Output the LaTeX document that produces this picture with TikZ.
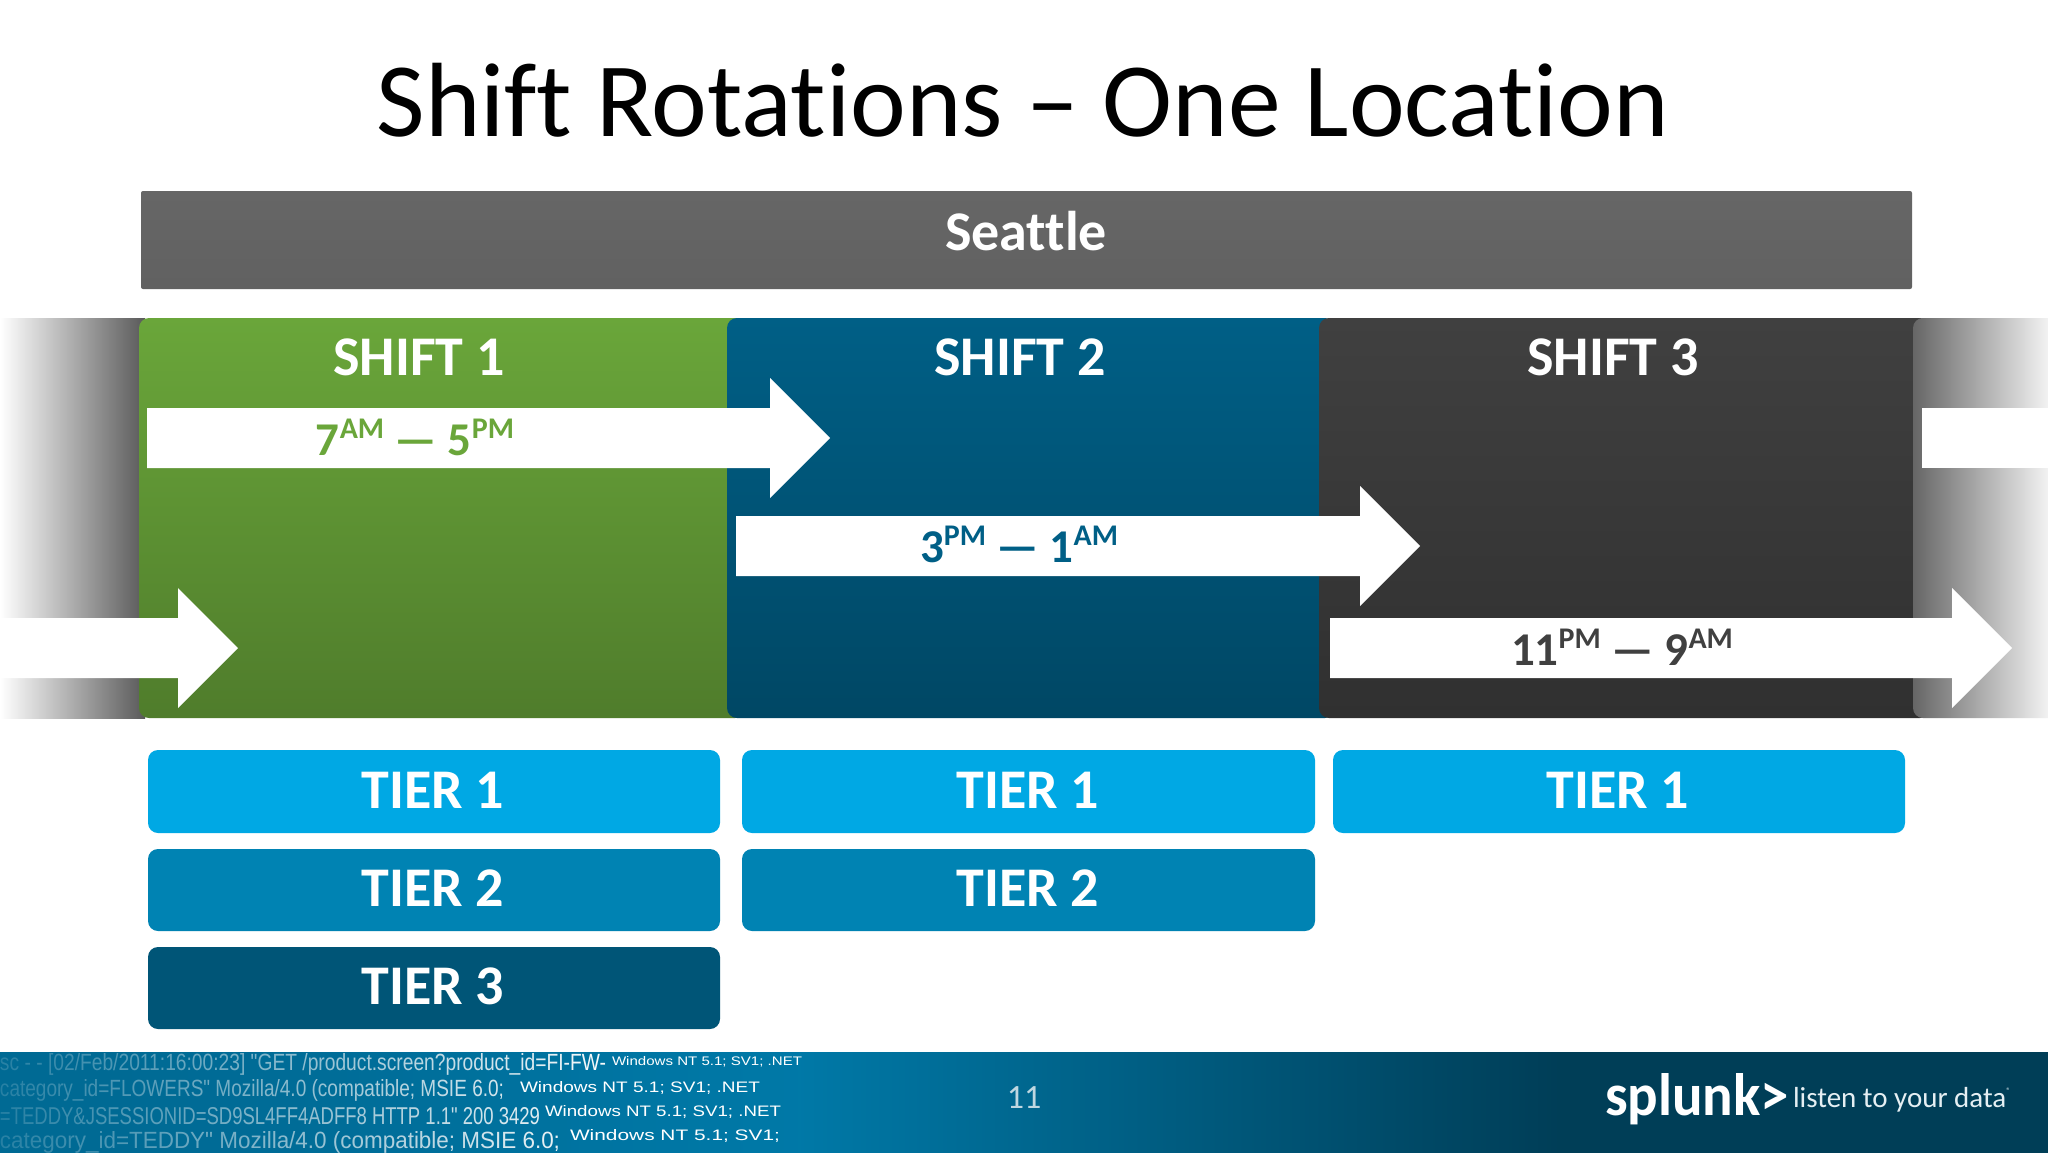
\documentclass[tikz,border=0pt]{standalone}
\usepackage{fontspec}
\setmainfont[Ligatures=NoCommon]{Carlito}
\newfontfamily\codefont{Liberation Sans}
\usetikzlibrary{calc,fadings}

\definecolor{greenshift}{HTML}{6AA63A}
\definecolor{blueshift}{HTML}{005F86}
\definecolor{darkshift}{HTML}{404040}
\definecolor{tierone}{HTML}{00A8E4}
\definecolor{tiertwo}{HTML}{0083B3}
\definecolor{tierthree}{HTML}{005577}

% a white arrow: x start, x of head, x of tip, y of its centre
\newcommand{\shiftarrow}[4]{
    \fill[white] (#1,#4-30) -- (#2,#4-30) -- (#2,#4-60) -- (#3,#4)
        -- (#2,#4+60) -- (#2,#4+30) -- (#1,#4+30) -- cycle;
}
% small raised part of an hour
\newcommand{\hoursup}[1]{\raisebox{0.36em}{\fontsize{15}{16}\selectfont #1}}

\begin{document}
\begin{tikzpicture}[
        %We set the units to the pixels of the slide
        x=0.5pt, y=-0.5pt,
        every node/.style={inner sep=0pt, outer sep=0pt},
        title text/.style={font=\fontsize{52.8}{55}\selectfont, color=black},
        head text/.style={font=\fontsize{28}{30}\selectfont\bfseries, color=white},
        hours text/.style={font=\fontsize{23.5}{26}\selectfont\bfseries},
        tier box/.style={fill=#1, rounded corners=5pt},
        band/.style={top color=#1, bottom color=#1!75!black, rounded corners=5pt},
        code text/.style={font=\codefont, color=white, anchor=west}
     ]
    \useasboundingbox (0,0) rectangle (2048,1152);
    \fill[white] (0,0) rectangle (2048,1152);

    % title and location
    \node[title text] (title) at (1023,100) {Shift Rotations – One Location};
    \shade[top color=black!60, bottom color=black!62, rounded corners=1pt] (141,191) rectangle (1912,289);
    \node[head text] (seattle) at (1026,231) {Seattle};

    % gray ends of the band
    \shade[left color=white, right color=black!65] (0,318) rectangle (145,718);
    % shifts are drawn
    \shade[band=greenshift] (139,318) rectangle (745,718);
    \shade[band=blueshift] (727,318) rectangle (1335,718);
    \shade[band=darkshift] (1319,318) rectangle (1930,718);
    \shade[left color=black!60, right color=white, rounded corners=5pt] (1913,318) rectangle (2060,718);
    \fill[white] (2048,318) rectangle (2060,718);

    \node[head text] (shift1) at (419,357) {SHIFT 1};
    \node[head text] (shift2) at (1020,357) {SHIFT 2};
    \node[head text] (shift3) at (1613,357) {SHIFT 3};

    % arrows
    \shiftarrow{147}{770}{830}{438}
    \shiftarrow{736}{1360}{1420}{546}
    \shiftarrow{1330}{1952}{2012}{648}
    \shiftarrow{0}{178}{238}{648}
    \fill[white] (1922,408) rectangle (2048,468);

    \node[hours text, color=greenshift] (hours1) at (415,437) {7\hoursup{AM} — 5\hoursup{PM}};
    \node[hours text, color=blueshift] (hours2) at (1019,544) {3\hoursup{PM} — 1\hoursup{AM}};
    \node[hours text, color=darkshift] (hours3) at (1622,647) {11\hoursup{PM} — 9\hoursup{AM}};

    % tiers
    \fill[tier box=tierone] (148,750) rectangle (720,833);
    \fill[tier box=tiertwo] (148,849) rectangle (720,931);
    \fill[tier box=tierthree] (148,947) rectangle (720,1029);
    \fill[tier box=tierone] (742,750) rectangle (1315,833);
    \fill[tier box=tiertwo] (742,849) rectangle (1315,931);
    \fill[tier box=tierone] (1333,750) rectangle (1905,833);

    \node[head text] (tier11) at (433,790) {TIER 1};
    \node[head text] (tier12) at (433,888) {TIER 2};
    \node[head text] (tier13) at (433,986) {TIER 3};
    \node[head text] (tier21) at (1028,790) {TIER 1};
    \node[head text] (tier22) at (1028,888) {TIER 2};
    \node[head text] (tier31) at (1618,790) {TIER 1};

    % footer
    \begin{scope}
    \clip (0,1052) rectangle (2048,1160);
    \shade[left color=blueshift!85!tierone, right color=blueshift!65!tierone] (0,1052) rectangle (800,1160);
    \shade[left color=blueshift!65!tierone, right color=blueshift!65!black] (800,1052) rectangle (1560,1160);
    \fill[blueshift!65!black] (1560,1052) rectangle (2048,1160);
    % log lines, the left part large and the right part small
    \node[code text] (code1) at (0,1064) {\resizebox{303pt}{8.5pt}{sc - - [02/Feb/2011:16:00:23] "GET /product.screen?product\_id=FI-FW-}};
    \node[code text] (code2) at (0,1090) {\resizebox{252pt}{8.5pt}{category\_id=FLOWERS" Mozilla/4.0 (compatible; MSIE 6.0;}};
    \node[code text] (code3) at (0,1116) {\resizebox{270pt}{8.5pt}{=TEDDY\&JSESSIONID=SD9SL4FF4ADFF8 HTTP 1.1" 200 3429}};
    \node[code text] (code4) at (0,1142) {\resizebox{280pt}{8.5pt}{category\_id=TEDDY" Mozilla/4.0 (compatible; MSIE 6.0;}};
    \fill[blueshift!85!tierone, path fading=east, opacity=0.85] (0,1052) rectangle (620,1160);
    \node[code text] (tail1) at (612,1062) {\resizebox{95pt}{4.5pt}{Windows NT 5.1; SV1; .NET}};
    \node[code text] (tail2) at (520,1088) {\resizebox{120pt}{5.5pt}{Windows NT 5.1; SV1; .NET}};
    \node[code text] (tail3) at (545,1112) {\resizebox{118pt}{5.5pt}{Windows NT 5.1; SV1; .NET}};
    \node[code text] (tail4) at (570,1136) {\resizebox{105pt}{5.5pt}{Windows NT 5.1; SV1;}};
    \end{scope}
    \node[font=\fontsize{17}{20}\selectfont, color=white!75!blueshift] (pagenumber) at (1024,1098) {11};
    \node[font=\bfseries, color=white, anchor=base west] (logo) at (1605,1115) {\resizebox{92pt}{21pt}{splunk>}};
    \node[font=\fontsize{14.5}{16}\selectfont, color=white!90!blueshift, anchor=west] (slogan) at (1793,1100) {listen to your data\raisebox{0.5em}{\fontsize{4}{5}\selectfont ®}};
\end{tikzpicture}
\end{document}
